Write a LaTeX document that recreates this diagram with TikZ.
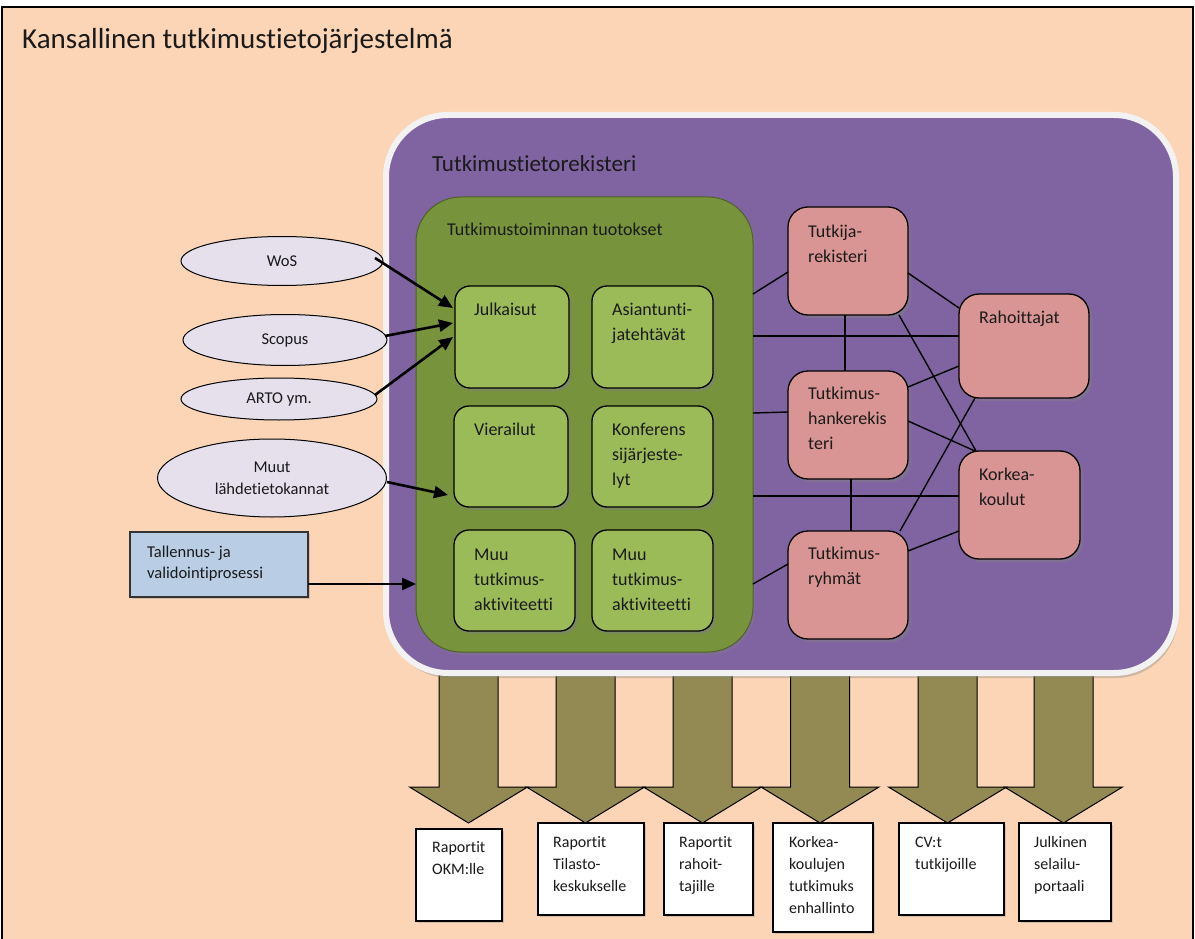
\documentclass[tikz,border=0pt]{standalone}
\usepackage{fontspec}
\setmainfont{Carlito}[Ligatures={NoCommon,NoRare,NoContextual}]
\usetikzlibrary{shapes.geometric,shadows,arrows.meta,calc}
\definecolor{peach}{HTML}{FBD5B5}
\definecolor{regpurple}{HTML}{8064A2}
\definecolor{borderwhite}{HTML}{F2F2F2}
\definecolor{greendark}{HTML}{77933C}
\definecolor{greenline}{HTML}{4F6228}
\definecolor{greenlight}{HTML}{9BBB59}
\definecolor{pinkbox}{HTML}{D99594}
\definecolor{lilac}{HTML}{E5E0EC}
\definecolor{bluebox}{HTML}{B9CDE5}
\definecolor{olivearrow}{HTML}{938953}
\definecolor{textdark}{HTML}{1A1A1A}
\begin{document}
\begin{tikzpicture}[x=1pt,y=-1pt,
  every node/.style={text=textdark},
  shadowed/.style={drop shadow={shadow xshift=3pt,shadow yshift=-3pt,opacity=0.45}},
  cell/.style={draw=black,line width=1.3pt,anchor=north west,outer sep=0pt,inner sep=0pt,shadowed},
  outbox/.style={cell,fill=greenlight,rounded corners=15pt},
  regbox/.style={cell,fill=pinkbox,rounded corners=20pt},
  reportbox/.style={draw=black,line width=1.2pt,fill=white,anchor=north west,outer sep=0pt,inner sep=0pt,
     drop shadow={shadow xshift=2pt,shadow yshift=-2pt,opacity=0.3}},
  source/.style={ellipse,draw=black,line width=1pt,fill=lilac,inner sep=0pt,font=\fontsize{16.5}{22}\selectfont,align=center},
  boxtext/.style={anchor=base west,align=left,inner sep=0pt,font=\fontsize{18}{25}\selectfont},
  smalltext/.style={anchor=base west,align=left,inner sep=0pt,font=\fontsize{16}{22}\selectfont},
  link/.style={draw=black,line width=1.4pt},
  feed/.style={draw=black,line width=2.6pt,-{Triangle[length=14pt,width=12pt]}},
  bigarrow/.style={draw=black,line width=1pt,fill=olivearrow}
]
\useasboundingbox (0,0) rectangle (1195,939);
% background frame
\fill[peach] (2,7) rectangle (1193,939);
\draw[line width=1.3pt] (2,939) -- (2,7) -- (1193,7) -- (1193,939);
\node[anchor=base west,inner sep=0pt,font=\fontsize{29}{34}\selectfont] (title) at (22,49) {Kansallinen tutkimustietojärjestelmä};

% output block arrows
\foreach \c/\n in {468.5/1,585.5/2,702.5/3,820/4,947.5/5,1063.5/6}
  \draw[bigarrow] (\c-29.5,674) -- (\c+29.5,674) -- (\c+29.5,787) -- (\c+59,787) -- (\c,823) -- (\c-59,787) -- (\c-29.5,787) -- cycle;

% register
\node[draw=borderwhite,line width=6pt,fill=regpurple,rounded corners=62pt,minimum width=790pt,minimum height=558pt,
      anchor=north west,outer sep=0pt,inner sep=0pt,
      drop shadow={shadow xshift=2pt,shadow yshift=-5pt,opacity=0.35}] (reg) at (386,115) {};
\node[anchor=base west,inner sep=0pt,font=\fontsize{23}{28}\selectfont] (regtitle) at (432,172) {Tutkimustietorekisteri};

% outputs group
\node[draw=greenline,line width=1pt,fill=greendark,rounded corners=45pt,minimum width=337pt,minimum height=455pt,
      anchor=north west,outer sep=0pt,inner sep=0pt,
      drop shadow={shadow xshift=2pt,shadow yshift=-3pt,opacity=0.3}] (tuot) at (416,197) {};
\node[anchor=base west,inner sep=0pt,font=\fontsize{18}{25}\selectfont] (tuottitle) at (447,235) {Tutkimustoiminnan tuotokset};

\node[outbox,minimum width=114pt,minimum height=102pt] (jul) at (455,286) {};
\node[outbox,minimum width=121pt,minimum height=102pt] (asi) at (592,286) {};
\node[outbox,minimum width=114pt,minimum height=101pt] (vie) at (454,406) {};
\node[outbox,minimum width=121pt,minimum height=101pt] (kon) at (592,406) {};
\node[outbox,minimum width=121pt,minimum height=101pt] (muua) at (454,530) {};
\node[outbox,minimum width=121pt,minimum height=101pt] (muub) at (592,530) {};
% multi-line texts are placed by the baseline of their last line
\node[boxtext] (jult) at (474,315) {Julkaisut};
\node[boxtext] (asit) at (612,340) {Asiantunti-\\jatehtävät};
\node[boxtext] (viet) at (474,435) {Vierailut};
\node[boxtext] (kont) at (612,485) {Konferens\\sijärjeste-\\lyt};
\node[boxtext] (muuat) at (474,610) {Muu\\tutkimus-\\aktiviteetti};
\node[boxtext] (muubt) at (612,610) {Muu\\tutkimus-\\aktiviteetti};

% registers
\node[regbox,minimum width=120pt,minimum height=108pt] (tr) at (788,207) {};
\node[regbox,minimum width=130pt,minimum height=104pt] (rah) at (959,294) {};
\node[regbox,minimum width=120pt,minimum height=108pt] (thr) at (788,371) {};
\node[regbox,minimum width=121pt,minimum height=108pt] (kk) at (959,451) {};
\node[regbox,minimum width=120pt,minimum height=108pt] (ryh) at (788,531) {};

\draw[link] ($(tuot.north east)+(0,97)$) -- ($(tr.north west)+(0,65)$);
\draw[link] ($(tuot.north east)+(0,139)$) -- ($(rah.north west)+(0,42)$);
\draw[link] ($(tuot.north east)+(0,216)$) -- ($(thr.north west)+(0,41)$);
\draw[link] ($(tuot.north east)+(0,299)$) -- ($(kk.north west)+(0,45)$);
\draw[link] ($(tuot.north east)+(0,387)$) -- ($(ryh.north west)+(0,33)$);
\draw[link] ($(tr.north east)+(0,66)$) -- ($(rah.north west)+(0,14)$);
\draw[link] ($(tr.south)+(-3,0)$) -- ($(thr.north)+(-3,0)$);
\draw[link] ($(tr.south east)+(-9,0)$) -- ($(kk.north west)+(17,0)$);
\draw[link] ($(thr.north east)+(0,16)$) -- ($(rah.south west)+(0,-32)$);
\draw[link] ($(thr.north east)+(0,50)$) -- ($(kk.north west)+(16,0)$);
\draw[link] ($(thr.south)+(3,0)$) -- ($(ryh.north)+(3,0)$);
\draw[link] ($(rah.south west)+(16,0)$) -- ($(ryh.north east)+(-8,0)$);
\draw[link] ($(ryh.north east)+(0,20)$) -- ($(kk.south west)+(0,-28)$);

\node[boxtext] (trt) at (808,262) {Tutkija-\\rekisteri};
\node[boxtext] (raht) at (979,323) {Rahoittajat};
\node[boxtext] (thrt) at (808,449) {Tutkimus-\\hankerekis\\teri};
\node[boxtext] (kkt) at (979,505) {Korkea-\\koulut};
\node[boxtext] (ryht) at (808,584) {Tutkimus-\\ryhmät};

% sources
\node[source,minimum width=202pt,minimum height=49pt] (wos) at (282,261) {WoS};
\node[source,minimum width=204pt,minimum height=51pt] (sco) at (285,340) {Scopus};
\node[source,minimum width=196pt,minimum height=42pt] (art) at (279,399) {ARTO ym.};
\node[source,minimum width=229pt,minimum height=78pt] (muut) at (272,478) {Muut\\lähdetietokannat};
\node[draw=black!80,line width=1.2pt,fill=bluebox,anchor=north west,outer sep=0pt,inner sep=0pt,
      minimum width=178pt,minimum height=65pt,drop shadow={shadow xshift=2pt,shadow yshift=-2pt,opacity=0.3}] (tal) at (130,532) {};
\node[smalltext,font=\fontsize{16.5}{21}\selectfont] (talt) at (147,578) {Tallennus- ja\\validointiprosessi};

\draw[feed] ($(wos.center)+(93,-3)$) -- ($(jul.north west)+(-2,22)$);
\draw[feed] ($(sco.center)+(100,-4)$) -- ($(jul.north west)+(-2,37)$);
\draw[feed] ($(art.center)+(96,-4)$) -- ($(jul.north west)+(-2,51)$);
\draw[feed] ($(muut.east)+(0,4)$) -- ($(vie.north west)+(-6,89)$);
\draw[feed] ($(tal.south east)+(0,-13)$) -- ($(tuot.south west)+(0,-68)$);

% report boxes
\node[reportbox,minimum width=86pt,minimum height=92pt] (b1) at (416,829) {};
\node[reportbox,minimum width=106pt,minimum height=92pt] (b2) at (538,823) {};
\node[reportbox,minimum width=89pt,minimum height=92pt] (b3) at (664,823) {};
\node[reportbox,minimum width=100pt,minimum height=109pt] (b4) at (773,823) {};
\node[reportbox,minimum width=105pt,minimum height=92pt] (b5) at (899,823) {};
\node[reportbox,minimum width=92pt,minimum height=98pt] (b6) at (1019,823) {};
\node[smalltext] (b1t) at (432,874) {Raportit\\OKM:lle};
\node[smalltext] (b2t) at (553,891) {Raportit\\Tilasto-\\keskukselle};
\node[smalltext] (b3t) at (679,891) {Raportit\\rahoit-\\tajille};
\node[smalltext] (b4t) at (789,913) {Korkea-\\koulujen\\tutkimuks\\enhallinto};
\node[smalltext] (b5t) at (915,869) {CV:t\\tutkijoille};
\node[smalltext] (b6t) at (1034,891) {Julkinen\\selailu-\\portaali};
\end{tikzpicture}
\end{document}
